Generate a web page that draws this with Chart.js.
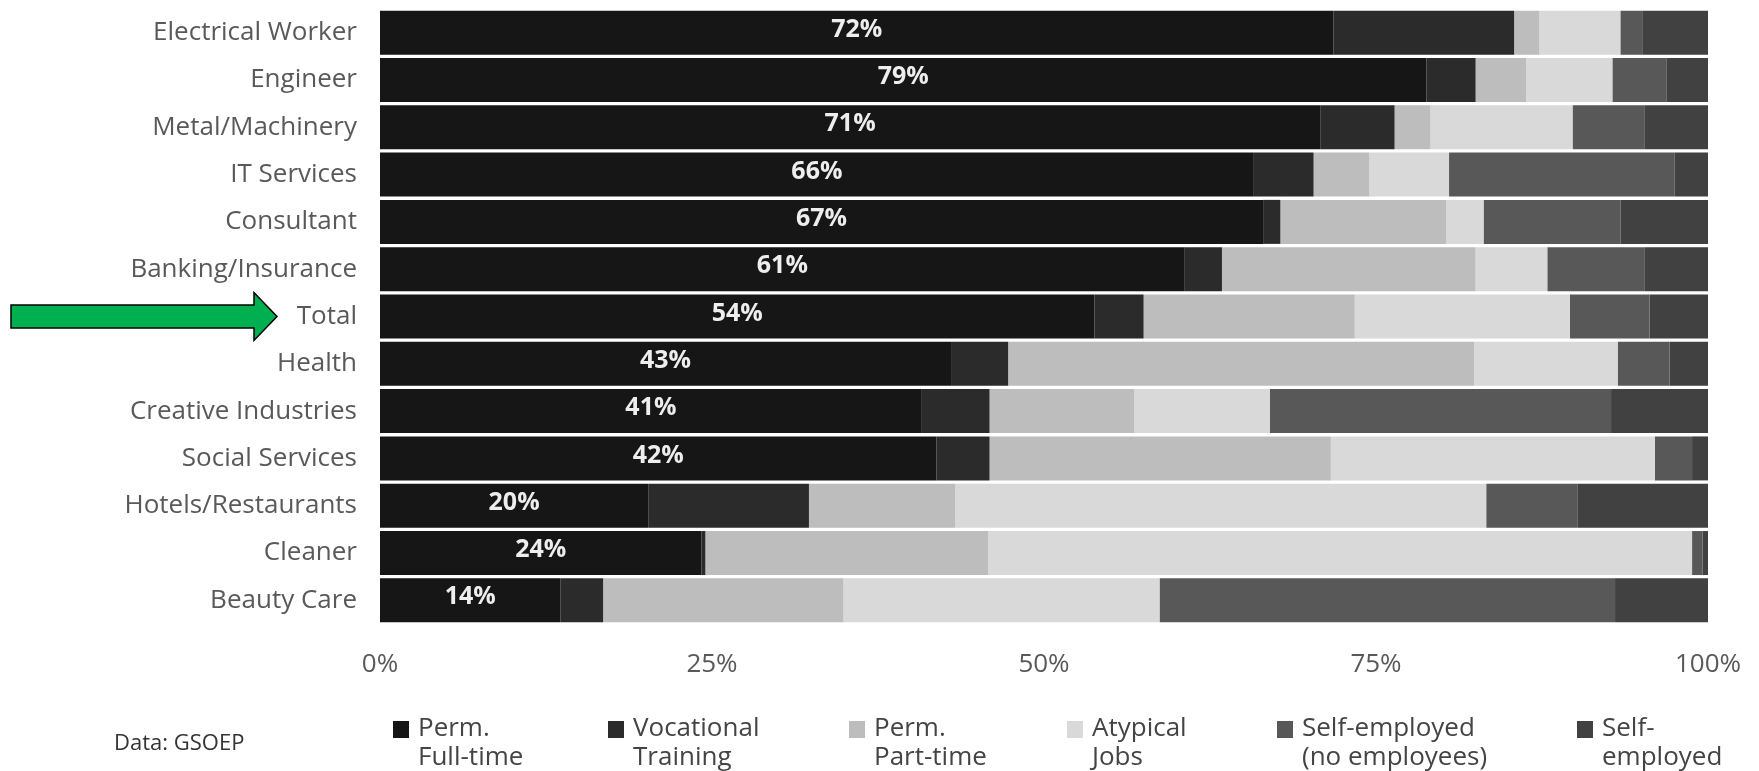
<!DOCTYPE html>
<html>
<head>
<meta charset="utf-8">
<script src="https://cdn.jsdelivr.net/npm/chart.js@4.4.1/dist/chart.umd.min.js"></script>
<style>
html, body { margin: 0; padding: 0; background: #fff; }
#wrap { width: 1759px; height: 771px; }
</style>
</head>
<body>
<div id="wrap"><canvas id="canvasJobs" width="1759" height="771"></canvas></div>
<script>
'use strict';

// occupations, top to bottom
const categories = ['Electrical Worker', 'Engineer', 'Metal/Machinery', 'IT Services', 'Consultant',
    'Banking/Insurance', 'Total', 'Health', 'Creative Industries', 'Social Services',
    'Hotels/Restaurants', 'Cleaner', 'Beauty Care'];

// shares in %
const permFullTime   = [71.8, 78.8, 70.8, 65.8, 66.5, 60.6, 53.8, 43.0, 40.8, 41.9, 20.2, 24.2, 13.6];
const vocational     = [13.6,  3.7,  5.6,  4.5,  1.3,  2.8,  3.7,  4.3,  5.1,  4.0, 12.1,  0.3,  3.2];
const permPartTime   = [ 1.9,  3.8,  2.7,  4.2, 12.5, 19.1, 15.9, 35.1, 10.9, 25.7, 11.0, 21.3, 18.1];
const atypicalJobs   = [ 6.1,  6.5, 10.7,  6.0,  2.8,  5.4, 16.2, 10.8, 10.2, 24.4, 40.0, 53.0, 23.8];
const selfNoEmployee = [ 1.7,  4.1,  5.4, 17.0, 10.3,  7.3,  6.0,  3.9, 25.7,  2.8,  6.9,  0.8, 34.3];
const selfEmployed   = [ 4.9,  3.1,  4.8,  2.5,  6.6,  4.8,  4.4,  2.9,  7.3,  1.2,  9.8,  0.4,  7.0];

const seriesNames = [['Perm.', 'Full-time'], ['Vocational', 'Training'], ['Perm.', 'Part-time'],
    ['Atypical', 'Jobs'], ['Self-employed', '(no employees)'], ['Self-', 'employed']];
const seriesData = [permFullTime, vocational, permPartTime, atypicalJobs, selfNoEmployee, selfEmployed];
const seriesColors = ['#161616', '#2b2b2b', '#bdbdbd', '#d9d9d9', '#585858', '#414141'];

const xTicks = [0, 25, 50, 75, 100];

const FONT = '"Open Sans", Lato, sans-serif';

let datasets = seriesData.map(function (d, i) {
    return {
        label: seriesNames[i].join(' '),
        data: d,
        backgroundColor: seriesColors[i],
        borderWidth: 0,
        barPercentage: 0.93,
        categoryPercentage: 1
    };
});

// white % labels inside the full-time bars
const barLabels = {
    id: 'barLabels',
    afterDatasetsDraw(chart) {
        const ctx = chart.ctx;
        const meta = chart.getDatasetMeta(0);
        ctx.save();
        ctx.fillStyle = '#eeeeee';
        ctx.font = 'bold 25px ' + FONT;
        ctx.textAlign = 'center';
        ctx.textBaseline = 'middle';
        meta.data.forEach(function (bar, i) {
            ctx.fillText(Math.round(permFullTime[i]) + '%', (bar.x + bar.base) / 2, bar.y - 3);
        });
        ctx.restore();
    }
};

// legend with two-line labels, plus source note
const legendBox = {
    id: 'legendBox',
    afterDraw(chart) {
        const ctx = chart.ctx;
        const xs = [393, 608, 849, 1067, 1277, 1577];
        ctx.save();
        ctx.textBaseline = 'middle';
        ctx.font = '22px ' + FONT;
        ctx.fillStyle = '#333';
        ctx.fillText('Data: GSOEP', 114, 744);
        ctx.font = '26px ' + FONT;
        xs.forEach(function (x, i) {
            ctx.fillStyle = seriesColors[i];
            ctx.fillRect(x, 721, 16, 17);
            ctx.fillStyle = '#444';
            ctx.fillText(seriesNames[i][0], x + 25, 729);
            ctx.fillText(seriesNames[i][1], x + 25, 758);
        });
        ctx.restore();
    }
};

// green arrow pointing at "Total"
const totalArrow = {
    id: 'totalArrow',
    afterDraw(chart) {
        const ctx = chart.ctx;
        const y = chart.scales.y.getPixelForValue(categories.indexOf('Total'));
        ctx.save();
        ctx.beginPath();
        ctx.moveTo(11, y - 11.5);
        ctx.lineTo(254, y - 11.5);
        ctx.lineTo(254, y - 24);
        ctx.lineTo(277, y);
        ctx.lineTo(254, y + 24);
        ctx.lineTo(254, y + 11.5);
        ctx.lineTo(11, y + 11.5);
        ctx.closePath();
        ctx.fillStyle = '#00b050';
        ctx.fill();
        ctx.lineWidth = 1.5;
        ctx.strokeStyle = '#000';
        ctx.stroke();
        ctx.restore();
    }
};

const config = {
    type: 'bar',
    data: {
        labels: categories,
        datasets: datasets
    },
    options: {
        indexAxis: 'y',
        responsive: false,
        animation: false,
        devicePixelRatio: 1,
        layout: {
            padding: { left: 0, right: 51, top: 9, bottom: 87 }
        },
        scales: {
            x: {
                stacked: true,
                min: 0,
                max: 100,
                afterBuildTicks: function (scale) {
                    scale.ticks = xTicks.map(function (v) { return { value: v }; });
                },
                afterFit: function (scale) {
                    scale.height = 60;
                    scale.paddingLeft = 0;
                    scale.paddingRight = 0;
                },
                grid: { display: false, drawTicks: false },
                border: { display: false },
                ticks: {
                    padding: 25,
                    color: '#595959',
                    font: { family: FONT, size: 26 },
                    callback: function (v) { return v + '%'; }
                }
            },
            y: {
                stacked: true,
                afterFit: function (scale) {
                    scale.width = 380;
                    scale.paddingTop = 0;
                    scale.paddingBottom = 0;
                },
                grid: { display: false, drawTicks: false },
                border: { display: false },
                ticks: {
                    padding: 23,
                    color: '#595959',
                    font: { family: FONT, size: 26 }
                }
            }
        },
        plugins: {
            legend: { display: false },
            title: { display: false },
            tooltip: { enabled: false }
        }
    },
    plugins: [barLabels, legendBox, totalArrow]
};

const ctx = document.querySelector('#canvasJobs').getContext('2d');
let chart = new Chart(ctx, config);
</script>
</body>
</html>
